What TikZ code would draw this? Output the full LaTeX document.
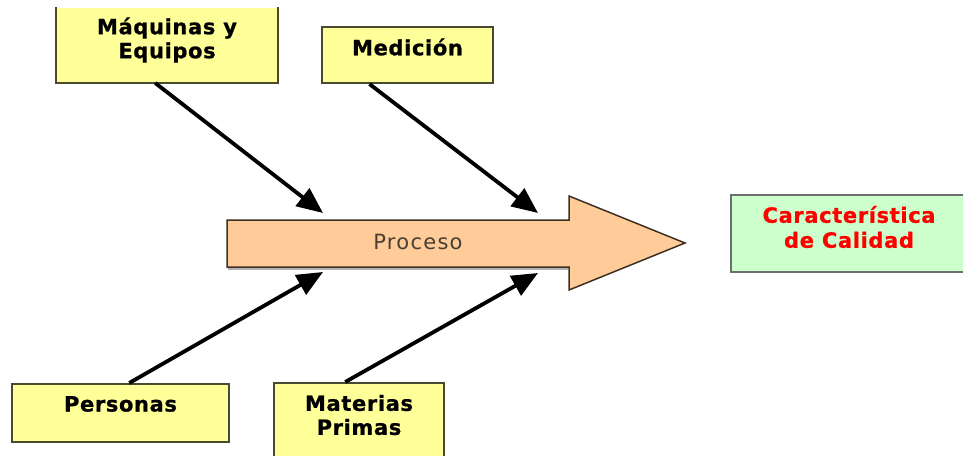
\documentclass[tikz,border=0pt]{standalone}
\usepackage{fontspec}
\setmainfont{DejaVu Sans}
\newfontfamily\procfont[LetterSpace=6]{DejaVu Sans}
\newfontfamily\labfont[LetterSpace=3,BoldFeatures={FakeBold=0.8}]{DejaVu Sans}
\usetikzlibrary{arrows.meta,calc}
\definecolor{causefill}{HTML}{FFFF99}
\definecolor{causeedge}{HTML}{4A4A2E}
\definecolor{procfill}{HTML}{FFCC99}
\definecolor{procedge}{HTML}{3D3022}
\definecolor{proctext}{HTML}{4A3E32}
\definecolor{efffill}{HTML}{CCFFCC}
\definecolor{effedge}{HTML}{6E6E6E}
\definecolor{efftext}{HTML}{FF0000}
\tikzset{
  causebox/.style={rectangle, fill=causefill, draw=causeedge, line width=2pt, inner sep=0pt},
  causelabel/.style={font=\labfont\fontsize{21}{24}\selectfont\bfseries, align=center, text=black},
  cause/.style={line width=3.8pt, -{Triangle[length=26pt,width=22pt]}},
}
\begin{document}
\begin{tikzpicture}[x=1pt,y=-1pt]
\useasboundingbox (0,0) rectangle (963,455);
\clip (0,0) rectangle (963,455);

% cause boxes (the first one is open at the top)
\node[causebox, draw=none, minimum width=220pt, minimum height=74pt] (maq) at (167,45) {};
\draw[causeedge, line width=2pt] (maq.north west) -- (maq.south west) -- (maq.south east) -- (maq.north east);
\node[causebox, minimum width=171pt, minimum height=56pt] (med) at (407.5,55) {};
\node[causebox, minimum width=217pt, minimum height=58pt] (per) at (120.5,413) {};
\node[causebox, minimum width=170pt, minimum height=90pt] (mat) at (359,428) {};

\node[causelabel] (maqtxt) at (167,40) {Máquinas y\\Equipos};
\node[causelabel] (medtxt) at (407.5,47) {Medición};
\node[causelabel] (pertxt) at (120.5,404) {Personas};
\node[causelabel] (mattxt) at (359,415) {Materias\\Primas};

% process arrow
\filldraw[fill=procfill, draw=procedge, line width=1.5pt]
  (227,220) -- (569,220) -- (569,196) -- (685,243) -- (569,290) -- (569,267) -- (227,267) -- cycle;
\draw[gray!60, line width=1.5pt] (228,269) -- (568,269);
\node[font=\procfont\fontsize{21}{22}\selectfont, text=proctext] (proc) at (418,242) {Proceso};

% effect box
\node[rectangle, fill=efffill, draw=effedge, line width=2.5pt, minimum width=280pt, minimum height=77pt] (eff) at (871,233.5) {};
\node[font=\labfont\fontsize{21}{25}\selectfont\bfseries, text=efftext, align=center] (efftxt) at (849,227) {Característica\\de Calidad};

% arrow tips above and below the shaft
\coordinate (t1) at (323,213);
\coordinate (t2) at (538,213);
\coordinate (t3) at (323,272);
\coordinate (t4) at (538,273);

\draw[cause] ($(maq.south west)!0.447!(maq.south east)$) -- (t1);
\draw[cause] ($(med.south west)!0.28!(med.south east)$) -- (t2);
\draw[cause] ($(per.north west)!0.54!(per.north east)$) -- (t3);
\draw[cause] ($(mat.north west)!0.42!(mat.north east)$) -- (t4);
\end{tikzpicture}
\end{document}
